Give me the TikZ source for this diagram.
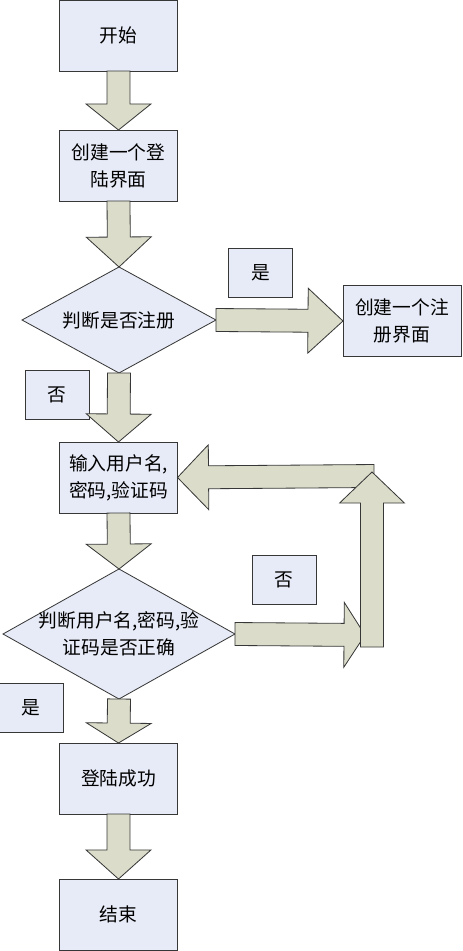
\documentclass[tikz,border=0pt]{standalone}
\usepackage{fontspec}
\setmainfont{Noto Sans CJK SC}
\usetikzlibrary{shapes.geometric,calc}

\definecolor{boxfill}{RGB}{231,235,247}
\definecolor{arrowfill}{RGB}{219,221,202}
\definecolor{edgegray}{RGB}{55,55,55}

\def\shaftw{9.8pt}
\def\headw{27.7pt}

\tikzset{
  stepbox/.style={draw=edgegray, fill=boxfill, line width=0.7pt, minimum width=3.54cm,
    minimum height=2.13cm, inner sep=0pt, outer sep=0pt, align=center},
  tagbox/.style={draw=edgegray, fill=boxfill, line width=0.7pt, minimum width=1.92cm,
    minimum height=1.47cm, inner sep=0pt, outer sep=0pt},
  decision/.style={shape=diamond, draw=edgegray, fill=boxfill, line width=0.7pt,
    inner sep=0pt, outer sep=0pt},
  arrowbody/.style={draw=edgegray, fill=arrowfill, line width=0.7pt, line join=miter}
}

% block arrow from #2 to #3, #1 = length of the head
\newcommand\blockarrow[3][23.9pt]{%
  \path[arrowbody] let \p1=(#2), \p2=(#3),
      \n1={veclen(\x2-\x1,\y2-\y1)}, \n2={(\x2-\x1)/\n1}, \n3={(\y2-\y1)/\n1},
      \n4={\n1-#1}
    in ({\x1-(\n3)*\shaftw},{\y1+(\n2)*\shaftw})
    -- ({\x1+(\n2)*(\n4)-(\n3)*\shaftw},{\y1+(\n3)*(\n4)+(\n2)*\shaftw})
    -- ({\x1+(\n2)*(\n4)-(\n3)*\headw},{\y1+(\n3)*(\n4)+(\n2)*\headw})
    -- (\p2)
    -- ({\x1+(\n2)*(\n4)+(\n3)*\headw},{\y1+(\n3)*(\n4)-(\n2)*\headw})
    -- ({\x1+(\n2)*(\n4)+(\n3)*\shaftw},{\y1+(\n3)*(\n4)-(\n2)*\shaftw})
    -- ({\x1+(\n3)*\shaftw},{\y1-(\n2)*\shaftw}) -- cycle;}

\begin{document}
\begin{tikzpicture}[x=0.03cm,y=-0.03cm,font=\fontsize{16pt}{23pt}\selectfont]
    \useasboundingbox (0,0) rectangle (462,951);

    \node[stepbox] (start) at (118.5,35.5) {开始};
    \node[stepbox] (login) at (118.5,165.5) {创建一个登\\陆界面};
    \node[decision, minimum width=5.82cm, minimum height=3.18cm,
      label={center:判断是否注册}] (isreg) at (119,320) {};
    \node[stepbox] (regui) at (402,321) {创建一个注\\册界面};
    \node[tagbox] (yes1) at (260.5,273) {是};
    \node[tagbox] (no1) at (57,395) {否};
    \node[stepbox] (input) at (118.5,477.5) {输入用户名,\\密码,验证码};
    \node[decision, minimum width=6.96cm, minimum height=3.9cm,
      label={[align=center]center:{判断用户名,密码,验\\证码是否正确}}] (check) at (119,634) {};
    \node[tagbox] (no2) at (284,579.5) {否};
    \node[tagbox] (yes2) at (31,708) {是};
    \node[stepbox] (success) at (118.5,778.5) {登陆成功};
    \node[stepbox] (finish) at (118.5,914.5) {结束};

    \coordinate (r2tip) at (365,635);
    \coordinate (upfoot) at (372,647);
    \coordinate (uptip) at (372,472);
    \coordinate (lfoot) at (374,476);

    \blockarrow[22.2pt]{start.south}{login.north}
    \blockarrow[25.6pt]{login.south}{isreg.north}
    \blockarrow[29.9pt]{isreg.east}{regui.west}
    \blockarrow{isreg.south}{input.north}
    \blockarrow[21.3pt]{input.south}{check.north}
    \blockarrow[17pt]{check.south}{success.north}
    \blockarrow[24.8pt]{success.south}{finish.north}

    % the loop back to the input box
    \blockarrow[26.5pt]{lfoot}{input.east}
    \blockarrow[17.9pt]{check.east}{r2tip}
    \blockarrow[26.5pt]{upfoot}{uptip}

\end{tikzpicture}
\end{document}
